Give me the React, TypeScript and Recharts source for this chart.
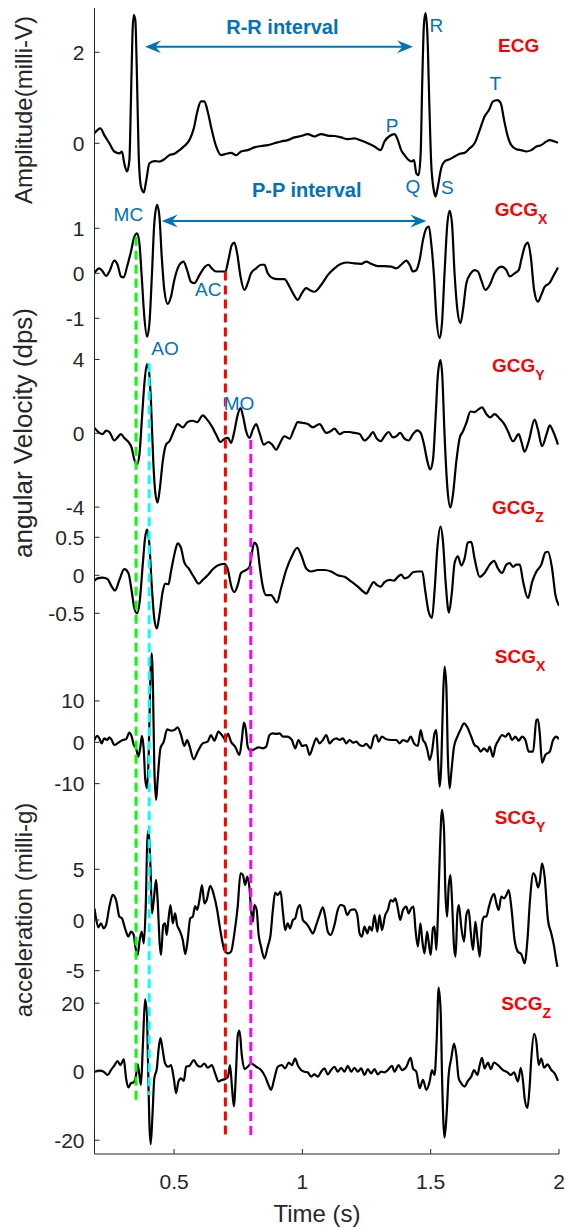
import React from 'react';
import { ComposedChart, Line, XAxis, YAxis, ReferenceLine, ReferenceDot } from 'recharts';

// ---------------- data (time in s, value in panel units) ----------------
const ecg: [number, number][] = [
  [0.19, 0.22], [0.213, 0.33], [0.228, 0.18], [0.248, 0], [0.267, -0.18], [0.287, -0.22], [0.297, -0.18],
  [0.306, -0.44], [0.317, -0.62], [0.326, -0.37], [0.332, 0.95], [0.338, 2.42], [0.343, 2.82], [0.349, 2.71],
  [0.356, 1.32], [0.362, -0.22], [0.371, -0.95], [0.382, -1.08], [0.391, -0.84], [0.404, -0.44], [0.423, -0.39],
  [0.443, -0.4], [0.462, -0.35], [0.482, -0.26], [0.501, -0.23], [0.521, -0.15], [0.54, -0.06], [0.56, 0.07],
  [0.577, 0.33], [0.592, 0.73], [0.605, 0.92], [0.618, 0.92], [0.631, 0.7], [0.647, 0.29], [0.664, -0.07],
  [0.683, -0.26], [0.703, -0.23], [0.722, -0.21], [0.742, -0.26], [0.761, -0.18], [0.787, -0.15], [0.813, -0.09],
  [0.839, -0.06], [0.865, -0.04], [0.891, 0], [0.917, 0.04], [0.943, 0.07], [0.969, 0.13], [0.995, 0.16],
  [1.021, 0.2], [1.047, 0.15], [1.073, 0.2], [1.099, 0.17], [1.125, 0.16], [1.151, 0.13], [1.177, 0.09],
  [1.203, 0.11], [1.229, 0.06], [1.255, 0], [1.281, -0.07], [1.305, -0.15], [1.32, 0.04], [1.34, 0.16],
  [1.359, 0.2], [1.372, 0.07], [1.385, -0.15], [1.398, -0.26], [1.411, -0.35], [1.424, -0.4], [1.435, -0.37],
  [1.444, -0.66], [1.453, -0.7], [1.461, -0.22], [1.467, 1.32], [1.474, 2.64], [1.48, 2.86], [1.487, 2.42],
  [1.495, 0.81], [1.502, -0.44], [1.512, -1.03], [1.519, -1.17], [1.528, -0.95], [1.541, -0.55], [1.554, -0.4],
  [1.574, -0.35], [1.593, -0.29], [1.613, -0.23], [1.632, -0.21], [1.652, -0.11], [1.671, 0], [1.691, 0.29],
  [1.71, 0.59], [1.727, 0.73], [1.743, 0.92], [1.76, 0.95], [1.773, 0.88], [1.786, 0.51], [1.799, 0.18],
  [1.814, -0.04], [1.834, -0.13], [1.853, -0.15], [1.873, -0.18], [1.892, -0.15], [1.912, -0.07], [1.931, -0.04],
  [1.951, 0.04], [1.964, 0.07], [1.983, 0.04], [1.996, 0.01],
];

const gcgx: [number, number][] = [
  [0.19, 0.01], [0.209, 0.11], [0.222, 0.04], [0.235, -0.06], [0.248, 0.04], [0.267, 0.28], [0.28, 0.19],
  [0.293, -0.07], [0.304, -0.09], [0.317, 0.15], [0.332, 0.48], [0.345, 0.81], [0.356, 0.89], [0.365, 0.67],
  [0.374, -0.07], [0.384, -0.96], [0.395, -1.41], [0.404, -1.11], [0.414, 0], [0.423, 1.11], [0.434, 1.52],
  [0.443, 1.26], [0.452, 0.37], [0.462, -0.37], [0.475, -0.68], [0.488, -0.52], [0.501, -0.15], [0.521, 0.19],
  [0.537, 0.26], [0.551, 0.07], [0.566, -0.19], [0.579, -0.22], [0.599, -0.04], [0.618, 0.13], [0.634, 0.19],
  [0.647, 0.11], [0.664, 0.04], [0.683, 0.04], [0.7, 0.04], [0.712, 0.3], [0.725, 0.63], [0.735, 0.68],
  [0.746, 0.44], [0.759, -0.07], [0.774, -0.37], [0.787, -0.22], [0.8, 0], [0.82, 0.11], [0.839, 0.19],
  [0.852, 0.19], [0.865, 0], [0.885, -0.11], [0.904, -0.13], [0.93, -0.13], [0.95, -0.3], [0.967, -0.48],
  [0.982, -0.59], [0.998, -0.44], [1.015, -0.33], [1.028, -0.37], [1.047, -0.41], [1.073, -0.26], [1.099, -0.04],
  [1.125, 0.11], [1.151, 0.21], [1.177, 0.24], [1.203, 0.22], [1.229, 0.21], [1.249, 0.26], [1.268, 0.21],
  [1.294, 0.16], [1.32, 0.16], [1.346, 0.15], [1.366, 0.11], [1.385, 0.19], [1.405, 0.28], [1.418, 0.19],
  [1.431, 0.04], [1.444, 0.07], [1.457, 0.3], [1.47, 0.74], [1.483, 1.0], [1.493, 1.04], [1.502, 0.67],
  [1.513, -0.07], [1.522, -0.96], [1.535, -1.44], [1.544, -1.11], [1.554, 0], [1.565, 1.11], [1.574, 1.39],
  [1.583, 1.11], [1.593, 0], [1.604, -0.81], [1.616, -1.11], [1.626, -0.81], [1.639, -0.22], [1.656, 0],
  [1.671, 0.07], [1.684, 0.04], [1.697, -0.15], [1.713, -0.37], [1.73, -0.26], [1.749, 0], [1.775, 0.15],
  [1.795, 0.07], [1.808, -0.07], [1.827, 0], [1.843, 0.07], [1.853, 0.3], [1.869, 0.63], [1.879, 0.68],
  [1.89, 0.37], [1.903, -0.37], [1.918, -0.63], [1.931, -0.48], [1.944, -0.3], [1.964, -0.21], [1.977, -0.07],
  [1.996, 0.13],
];

const gcgy: [number, number][] = [
  [0.19, 0.29], [0.209, 0.02], [0.222, -0.04], [0.235, 0.14], [0.248, 0.07], [0.267, -0.39], [0.28, -0.22],
  [0.293, -0.04], [0.306, -0.25], [0.322, -0.47], [0.335, -0.79], [0.345, -1.42], [0.355, -1.69], [0.365, -1.15],
  [0.375, 0.83], [0.384, 2.62], [0.394, 3.73], [0.401, 3.52], [0.41, 1.72], [0.419, -1.51], [0.427, -3.21],
  [0.436, -3.75], [0.445, -2.94], [0.456, -1.51], [0.469, -0.61], [0.482, -0.43], [0.499, 0.11], [0.514, 0.5],
  [0.534, 0.32], [0.553, 0.61], [0.573, 0.68], [0.59, 0.61], [0.612, 0.97], [0.629, 0.74], [0.647, 0.38],
  [0.664, -0.07], [0.681, -0.47], [0.697, -0.29], [0.71, -0.25], [0.722, -0.52], [0.735, 0.11], [0.748, 1.0],
  [0.759, 1.36], [0.769, 0.91], [0.781, 0.11], [0.794, -0.25], [0.807, 0.2], [0.82, 0.5], [0.833, 0.02],
  [0.85, -0.61], [0.868, -0.47], [0.882, -0.61], [0.898, -0.88], [0.915, -0.47], [0.93, -0.16], [0.95, -0.29],
  [0.967, 0.2], [0.982, 0.61], [1.002, 0.56], [1.021, 0.5], [1.041, 0.32], [1.067, 0.5], [1.093, 0.02],
  [1.11, 0.11], [1.125, 0.25], [1.145, -0.04], [1.164, 0.07], [1.184, 0.07], [1.203, 0.02], [1.223, -0.04],
  [1.242, -0.39], [1.262, -0.16], [1.275, 0.07], [1.288, -0.25], [1.305, -0.43], [1.32, -0.16], [1.336, 0.07],
  [1.353, -0.22], [1.366, -0.16], [1.381, 0.02], [1.398, -0.29], [1.414, -0.39], [1.431, -0.04], [1.448, 0.16],
  [1.461, 0.02], [1.474, -0.61], [1.487, -1.51], [1.498, -1.96], [1.509, -1.42], [1.519, 0.83], [1.528, 3.16],
  [1.538, 3.96], [1.545, 3.16], [1.554, -0.07], [1.565, -2.94], [1.577, -4.02], [1.587, -3.3], [1.6, -1.51],
  [1.613, -0.25], [1.626, 0.11], [1.639, 0.56], [1.655, 1.18], [1.671, 1.15], [1.684, 1.27], [1.7, 1.4],
  [1.717, 1.04], [1.732, 0.86], [1.749, 1.04], [1.769, 0.79], [1.788, 0.47], [1.801, 0.11], [1.821, -0.43],
  [1.843, -0.04], [1.853, -0.43], [1.866, -1.0], [1.882, -0.43], [1.905, 0.74], [1.918, 0.2], [1.934, -0.7],
  [1.951, -0.07], [1.964, 0.43], [1.977, 0.11], [1.996, -0.61],
];

const gcgz: [number, number][] = [
  [0.19, -0.07], [0.202, -0.04], [0.222, -0.03], [0.241, -0.05], [0.254, -0.13], [0.27, -0.2], [0.287, -0.06],
  [0.306, 0.08], [0.322, 0.03], [0.335, -0.21], [0.345, -0.43], [0.356, -0.5], [0.366, -0.35], [0.378, 0.14],
  [0.387, 0.49], [0.395, 0.6], [0.403, 0.44], [0.413, -0.13], [0.423, -0.57], [0.433, -0.7], [0.443, -0.52],
  [0.456, -0.21], [0.466, -0.11], [0.478, -0.12], [0.488, 0.05], [0.501, 0.27], [0.514, 0.42], [0.527, 0.36],
  [0.54, 0.17], [0.557, 0.09], [0.577, -0.02], [0.596, -0.11], [0.612, -0.06], [0.631, 0.0], [0.651, 0.08],
  [0.67, 0.13], [0.696, 0.15], [0.71, 0.07], [0.722, -0.13], [0.735, -0.22], [0.748, -0.13], [0.761, 0.03],
  [0.781, 0.07], [0.794, 0.11], [0.803, 0.29], [0.813, 0.43], [0.824, 0.38], [0.833, 0.14], [0.846, -0.15],
  [0.859, -0.26], [0.878, -0.26], [0.901, -0.36], [0.917, -0.17], [0.937, 0.07], [0.959, 0.25], [0.98, 0.36],
  [0.995, 0.27], [1.015, 0.09], [1.034, 0.05], [1.06, 0.07], [1.086, 0.07], [1.112, 0.05], [1.138, 0.0],
  [1.164, -0.02], [1.19, -0.08], [1.216, -0.15], [1.236, -0.21], [1.249, -0.24], [1.262, -0.17], [1.278, -0.09],
  [1.291, -0.13], [1.305, -0.15], [1.32, -0.09], [1.34, -0.06], [1.357, -0.07], [1.372, -0.02], [1.385, 0.01],
  [1.398, -0.04], [1.414, -0.02], [1.431, 0.04], [1.45, 0.05], [1.467, 0.05], [1.479, -0.21], [1.492, -0.48],
  [1.505, -0.56], [1.515, -0.21], [1.526, 0.36], [1.538, 0.64], [1.548, 0.44], [1.558, -0.08], [1.571, -0.49],
  [1.583, -0.21], [1.593, 0.16], [1.606, 0.25], [1.619, 0.13], [1.632, 0.22], [1.645, 0.43], [1.658, 0.44],
  [1.671, 0.22], [1.691, -0.02], [1.71, 0.03], [1.73, 0.14], [1.747, 0.19], [1.762, 0.09], [1.778, 0.03],
  [1.795, 0.14], [1.808, 0.16], [1.821, 0.11], [1.834, 0.14], [1.847, 0.14], [1.86, -0.08], [1.879, -0.3],
  [1.896, -0.08], [1.912, 0.05], [1.931, 0.14], [1.947, 0.3], [1.957, 0.31], [1.973, 0.09], [1.986, -0.26],
  [2.0, -0.4],
];

const scgx: [number, number][] = [
  [0.19, 0.56], [0.2, 1.53], [0.209, 0.97], [0.218, -0.24], [0.228, 0.97], [0.239, 0.56], [0.248, 1.21],
  [0.257, 0.56], [0.267, -0.65], [0.283, -0.08], [0.3, 0.56], [0.313, 0.73], [0.326, 2.34], [0.335, 1.37],
  [0.343, -0.65], [0.352, -1.45], [0.361, -3.47], [0.369, -1.05], [0.375, 1.53], [0.382, -1.85], [0.388, -9.11],
  [0.395, -11.13], [0.401, -3.47], [0.408, 16.69], [0.413, 21.53], [0.418, 12.66], [0.423, -5.89], [0.43, -13.95],
  [0.436, -9.11], [0.447, -1.45], [0.46, 0.16], [0.473, 3.15], [0.488, 2.82], [0.501, 2.98], [0.514, 3.63],
  [0.527, 1.77], [0.54, -0.89], [0.551, 0.56], [0.56, -0.89], [0.577, -4.11], [0.592, -2.26], [0.612, -0.24],
  [0.631, 0.16], [0.644, 1.77], [0.657, 0.4], [0.673, 2.58], [0.686, 1.77], [0.699, 0.73], [0.71, 2.02],
  [0.722, 0.16], [0.738, -1.05], [0.755, -3.06], [0.764, 0.56], [0.772, 4.76], [0.78, 2.98], [0.787, -1.05],
  [0.798, -2.02], [0.813, -1.69], [0.829, -1.21], [0.846, -1.45], [0.859, -1.05], [0.872, 1.77], [0.885, 2.18],
  [0.898, 2.02], [0.911, 2.18], [0.924, 1.37], [0.941, 1.37], [0.959, 0.56], [0.972, -1.45], [0.985, 0.56],
  [0.999, -0.89], [1.015, -0.65], [1.028, -3.06], [1.041, -1.05], [1.054, 0.97], [1.067, -0.24], [1.08, 0.56],
  [1.093, 1.77], [1.106, -0.24], [1.119, 0.56], [1.132, 0.97], [1.145, 0.56], [1.158, 0.97], [1.171, -0.24],
  [1.184, 0.56], [1.197, -0.08], [1.21, 0.16], [1.223, -0.65], [1.236, -0.89], [1.249, -0.4], [1.266, -1.45],
  [1.279, 1.37], [1.288, 1.77], [1.297, 0.16], [1.31, 1.37], [1.327, 0.73], [1.346, 0.56], [1.366, 0.56],
  [1.379, -0.24], [1.392, 0.56], [1.409, 0.16], [1.422, 1.37], [1.435, -0.24], [1.45, -0.89], [1.461, 2.98],
  [1.47, 0.56], [1.479, -0.24], [1.487, -1.85], [1.496, -4.27], [1.505, -2.26], [1.515, 2.18], [1.522, 2.98],
  [1.528, -3.47], [1.535, -10.73], [1.541, -5.89], [1.548, 10.24], [1.554, 18.31], [1.561, 13.47], [1.567, -3.47],
  [1.574, -11.13], [1.58, -7.5], [1.591, -1.05], [1.604, 1.37], [1.617, 3.15], [1.63, 4.6], [1.643, 3.63],
  [1.658, 1.37], [1.671, -0.65], [1.684, -1.21], [1.695, -2.26], [1.708, -1.45], [1.721, -2.26], [1.73, -1.05],
  [1.743, -3.47], [1.752, -1.05], [1.765, 0.56], [1.778, 1.77], [1.791, 1.37], [1.804, 2.18], [1.817, 0.56],
  [1.83, 1.37], [1.843, 0.4], [1.856, 1.37], [1.869, 0.56], [1.882, -2.26], [1.899, -2.26], [1.912, 5.4],
  [1.918, 5.56], [1.925, 2.18], [1.934, -4.92], [1.947, -3.06], [1.964, -2.26], [1.977, 0.56], [1.99, 1.37],
  [1.999, 0.73],
];

const scgy: [number, number][] = [
  [0.19, 1.15], [0.196, 0.16], [0.205, -0.72], [0.215, -0.33], [0.226, -0.82], [0.235, -0.49], [0.248, 1.32],
  [0.261, 2.47], [0.274, 1.97], [0.287, 0.33], [0.297, 0.16], [0.309, -0.82], [0.322, -1.64], [0.332, -1.15],
  [0.343, -1.48], [0.349, -2.63], [0.358, -3.45], [0.366, -1.97], [0.374, -1.15], [0.382, -2.3], [0.39, 1.64],
  [0.396, 7.89], [0.401, 8.88], [0.408, 5.26], [0.414, 0.66], [0.421, 1.97], [0.43, 3.95], [0.436, 1.97],
  [0.444, -2.3], [0.449, -3.45], [0.458, -0.49], [0.465, -0.33], [0.471, -1.48], [0.478, 0], [0.486, 1.48],
  [0.495, -0.33], [0.504, 0.66], [0.512, -0.49], [0.521, -0.99], [0.534, -1.97], [0.544, -3.36], [0.553, -1.97],
  [0.563, 0.16], [0.573, 0.33], [0.582, 1.38], [0.59, 0.99], [0.599, 1.97], [0.609, 3.45], [0.618, 1.64],
  [0.627, 1.97], [0.641, 3.36], [0.655, 2.47], [0.668, 0.99], [0.677, -0.49], [0.687, -1.97], [0.696, -2.96],
  [0.71, -3.29], [0.722, -3.13], [0.735, -1.32], [0.748, 1.32], [0.759, 4.61], [0.768, 4.44], [0.777, 3.45],
  [0.785, 4.28], [0.794, 3.13], [0.8, 0.99], [0.807, -0.16], [0.813, 1.48], [0.822, 0.99], [0.829, -1.32],
  [0.839, -2.63], [0.852, -3.78], [0.865, -2.63], [0.876, -1.48], [0.885, 0.99], [0.894, 2.7], [0.904, 2.47],
  [0.915, 2.8], [0.924, 0.82], [0.933, -0.99], [0.943, -0.33], [0.952, -0.82], [0.963, 0], [0.972, 0.16],
  [0.982, 1.15], [0.991, 1.48], [1.002, 0], [1.015, -0.33], [1.028, -0.82], [1.041, -1.32], [1.054, -0.49],
  [1.067, 0.49], [1.08, 1.25], [1.089, 0.33], [1.099, -1.15], [1.11, -1.48], [1.125, -0.49], [1.138, 0.99],
  [1.149, 1.48], [1.162, 1.38], [1.175, 0.49], [1.188, 0.99], [1.203, 1.05], [1.214, 0.49], [1.223, -1.32],
  [1.232, -1.64], [1.242, -0.66], [1.253, -1.32], [1.262, -0.66], [1.271, -1.05], [1.281, 0.49], [1.292, -1.15],
  [1.301, 0.49], [1.31, -0.99], [1.323, 0.49], [1.333, 0.99], [1.344, 1.97], [1.353, 1.81], [1.362, 2.14],
  [1.372, 1.15], [1.381, 0], [1.392, 0.99], [1.405, 1.32], [1.414, 0.66], [1.424, 1.15], [1.433, 1.32],
  [1.441, -0.99], [1.45, -2.63], [1.46, -0.33], [1.467, -1.97], [1.476, -3.29], [1.486, -1.15], [1.492, -2.14],
  [1.5, -3.45], [1.509, -0.82], [1.515, -0.66], [1.522, -2.96], [1.528, 0.33], [1.536, 6.91], [1.544, 10.86],
  [1.552, 8.88], [1.557, 2.96], [1.564, 0.33], [1.57, 3.29], [1.577, 4.44], [1.583, 1.97], [1.591, -2.63],
  [1.597, -3.62], [1.604, 0.66], [1.61, 1.48], [1.619, -0.66], [1.63, -2.14], [1.639, 0.49], [1.648, 0.99],
  [1.656, -1.15], [1.665, -2.96], [1.674, -0.16], [1.682, -1.81], [1.691, -3.62], [1.7, -0.33], [1.708, 0.33],
  [1.717, 0.33], [1.727, 1.32], [1.739, 2.3], [1.747, 2.57], [1.756, 1.64], [1.765, 0.99], [1.775, 2.3],
  [1.786, 2.14], [1.795, 2.47], [1.804, 2.96], [1.814, 1.32], [1.827, -1.97], [1.84, -3.13], [1.853, -3.36],
  [1.866, -4.28], [1.877, -1.97], [1.887, 1.97], [1.9, 4.61], [1.908, 4.28], [1.918, 3.22], [1.925, 3.78],
  [1.934, 5.59], [1.944, 4.28], [1.957, 0], [1.97, -1.32], [1.981, -2.63], [1.989, -3.95], [1.994, -4.61],
];

const scgz: [number, number][] = [
  [0.19, 0], [0.209, 0.29], [0.226, 0], [0.241, -0.96], [0.254, 0.48], [0.267, 1.73], [0.28, 3.08],
  [0.291, 1.92], [0.304, 3.65], [0.313, -1.92], [0.322, -4.62], [0.332, -3.37], [0.343, -3.08], [0.352, -0.96],
  [0.358, 2.12], [0.365, -0.96], [0.371, -3.85], [0.379, 8.65], [0.387, 21.15], [0.394, 17.31], [0.399, 0.96],
  [0.404, -15.38], [0.409, -21.15], [0.416, -12.5], [0.423, -1.92], [0.433, 0.96], [0.44, 6.73], [0.447, 9.81],
  [0.455, 6.73], [0.465, 2.4], [0.478, 1.44], [0.488, 1.92], [0.499, -1.92], [0.508, -6.25], [0.517, -2.88],
  [0.527, -1.92], [0.538, -2.69], [0.547, 1.44], [0.56, 1.73], [0.577, 3.37], [0.59, 1.92], [0.603, 1.44],
  [0.618, 2.4], [0.631, 1.15], [0.647, 1.92], [0.66, -0.48], [0.673, -2.88], [0.686, -2.4], [0.699, -2.12],
  [0.71, -1.44], [0.718, 1.92], [0.725, -3.85], [0.733, -10.1], [0.742, 0.96], [0.748, 10.58], [0.755, 12.02],
  [0.764, 4.81], [0.774, 0.77], [0.787, 1.44], [0.8, 2.4], [0.82, 1.44], [0.839, 0.48], [0.855, -1.44],
  [0.868, -3.85], [0.878, -5.29], [0.891, -1.92], [0.904, 1.44], [0.92, 1.92], [0.933, 0.96], [0.947, 2.69],
  [0.959, 1.92], [0.972, 3.85], [0.982, 1.92], [0.995, 0.48], [1.008, 0], [1.021, -0.19], [1.034, -1.44],
  [1.047, -0.77], [1.06, -1.44], [1.073, 0], [1.086, 0.96], [1.099, -0.77], [1.112, 0.48], [1.125, 1.44],
  [1.138, 0], [1.151, 1.15], [1.164, 0], [1.177, 1.73], [1.19, 0], [1.203, 1.15], [1.216, 0], [1.229, 0.96],
  [1.242, -0.96], [1.255, 0.77], [1.268, -0.48], [1.281, 0.77], [1.294, -0.77], [1.307, 0], [1.32, -0.19],
  [1.333, 0.48], [1.349, 1.73], [1.359, 0], [1.375, 1.92], [1.388, 0.48], [1.405, 1.44], [1.422, 4.04],
  [1.431, 0.96], [1.444, 0], [1.457, -4.81], [1.47, -2.4], [1.483, -5.29], [1.496, -2.88], [1.505, 0.48],
  [1.515, -0.96], [1.523, 8.65], [1.531, 24.52], [1.539, 17.31], [1.545, -3.85], [1.554, -19.23], [1.562, -12.5],
  [1.57, -0.96], [1.58, 3.85], [1.591, 8.17], [1.6, 4.81], [1.609, -1.92], [1.619, -3.37], [1.632, -4.33],
  [1.645, -2.69], [1.658, -1.44], [1.669, 0.48], [1.682, -0.96], [1.691, 1.92], [1.7, 4.04], [1.71, 0.96],
  [1.723, 2.69], [1.734, 0.77], [1.747, 2.69], [1.762, 1.92], [1.782, 0.48], [1.799, -0.19], [1.812, -0.96],
  [1.825, -0.19], [1.84, -2.88], [1.851, 1.15], [1.86, -2.88], [1.866, -7.69], [1.877, -10.58], [1.886, -3.85],
  [1.892, 3.85], [1.903, 11.06], [1.912, 8.65], [1.921, 1.92], [1.931, 3.85], [1.942, 1.15], [1.955, 2.12],
  [1.97, 0.48], [1.983, -0.48], [1.996, -2.69],
];

// tick labels
const timeTicks = [0.5, 1, 1.5, 2];
const ecgTicks = [0, 2];
const gcgxTicks = [-1, 0, 1];
const gcgyTicks = [-4, 0, 4];
const gcgzTicks = [-0.5, 0, 0.5];
const scgxTicks = [-10, 0, 10];
const scgyTicks = [-5, 0, 5];
const scgzTicks = [-20, 0, 20];

// ---------------- layout / style ----------------
const W = 566;
const H = 1228;
const PLOT = { left: 94.5, right: 559, top: 8, bottom: 1154 };
const FONT = '"Liberation Sans", Arial, Helvetica, sans-serif';
const AXIS = '#262626';
const BLUE = '#0072BD';

type Panel = { id: string; data: [number, number][]; ticks: number[]; zeroY: number; pxPerUnit: number };
const PANELS: Panel[] = [
  { id: 'ecg', data: ecg, ticks: ecgTicks, zeroY: 143.3, pxPerUnit: 45.5 },
  { id: 'gcgx', data: gcgx, ticks: gcgxTicks, zeroY: 273.3, pxPerUnit: 45 },
  { id: 'gcgy', data: gcgy, ticks: gcgyTicks, zeroY: 433.3, pxPerUnit: 18.46 },
  { id: 'gcgz', data: gcgz, ticks: gcgzTicks, zeroY: 575.3, pxPerUnit: 76 },
  { id: 'scgx', data: scgx, ticks: scgxTicks, zeroY: 742.3, pxPerUnit: 4.135 },
  { id: 'scgy', data: scgy, ticks: scgyTicks, zeroY: 920, pxPerUnit: 10.14 },
  { id: 'scgz', data: scgz, ticks: scgzTicks, zeroY: 1071.7, pxPerUnit: 3.425 },
];
const AXIS_W = 1; // each stacked y axis takes 1px of the left offset
const panelOf = (id: string) => PANELS.find((p) => p.id === id)!;
const domainOf = (p: Panel): [number, number] => [
  -(PLOT.bottom - p.zeroY) / p.pxPerUnit,
  (p.zeroY - PLOT.top) / p.pxPerUnit,
];
// express a value of one panel in the units of another panel's axis
const convert = (from: string, v: number, to: string) => {
  const f = panelOf(from);
  const t = panelOf(to);
  const py = f.zeroY - v * f.pxPerUnit;
  return (t.zeroY - py) / t.pxPerUnit;
};

// vertical dashed event markers: time, start (panel,value), end (panel,value)
const markers = [
  { t: 0.352, color: '#00FF00', top: ['gcgx', 0.81], bottom: ['scgz', -8.3] },
  { t: 0.403, color: '#00FFFF', top: ['gcgy', 3.79], bottom: ['scgz', -6.8] },
  { t: 0.7, color: '#FF0000', top: ['gcgx', 0.04], bottom: ['scgz', -19.4] },
  { t: 0.799, color: '#FF00FF', top: ['gcgy', -0.36], bottom: ['scgz', -19.4] },
] as { t: number; color: string; top: [string, number]; bottom: [string, number] }[];

const blueLabels = [
  { text: 'R', t: 1.522, panel: 'ecg', v: 2.58 },
  { text: 'P', t: 1.35, panel: 'ecg', v: 0.4 },
  { text: 'Q', t: 1.431, panel: 'ecg', v: -0.95 },
  { text: 'S', t: 1.565, panel: 'ecg', v: -0.98 },
  { text: 'T', t: 1.752, panel: 'ecg', v: 1.32 },
  { text: 'MC', t: 0.322, panel: 'gcgx', v: 1.3 },
  { text: 'AC', t: 0.633, panel: 'gcgx', v: -0.37 },
  { text: 'AO', t: 0.465, panel: 'gcgy', v: 4.6 },
  { text: 'MO', t: 0.753, panel: 'gcgy', v: 1.63 },
];

const intervals = [
  { text: 'R-R interval', panel: 'ecg', from: 0.387, to: 1.431, v: 2.12, textT: 0.922, textV: 2.55 },
  { text: 'P-P interval', panel: 'gcgx', from: 0.452, to: 1.483, v: 1.16, textT: 1.017, textV: 1.85 },
];

const panelNames = [
  { main: 'ECG', sub: '', t: 1.7625, panel: 'ecg', v: 2.16 },
  { main: 'GCG', sub: 'X', t: 1.75, panel: 'gcgx', v: 1.44 },
  { main: 'GCG', sub: 'Y', t: 1.739, panel: 'gcgy', v: 3.7 },
  { main: 'GCG', sub: 'Z', t: 1.739, panel: 'gcgz', v: 0.9 },
  { main: 'SCG', sub: 'X', t: 1.75, panel: 'scgx', v: 20.9 },
  { main: 'SCG', sub: 'Y', t: 1.75, panel: 'scgy', v: 10.19 },
  { main: 'SCG', sub: 'Z', t: 1.7754, panel: 'scgz', v: 19.97 },
];

// ---------------- renderers ----------------
const YTick = (props: any) => {
  const { y, payload } = props;
  return (
    <g>
      <line x1={PLOT.left} x2={PLOT.left + 5} y1={y} y2={y} stroke={AXIS} strokeWidth={1} />
      <text x={PLOT.left - 10} y={y} textAnchor="end" dominantBaseline="central" fontSize={21} fill={AXIS} fontFamily={FONT}>
        {payload.value}
      </text>
    </g>
  );
};

const XTick = (props: any) => {
  const { x, payload } = props;
  return (
    <g>
      <line x1={x} x2={x} y1={PLOT.bottom} y2={PLOT.bottom - 5} stroke={AXIS} strokeWidth={1} />
      <text x={x} y={PLOT.bottom + 27} textAnchor="middle" dominantBaseline="central" fontSize={21} fill={AXIS} fontFamily={FONT}>
        {payload.value}
      </text>
    </g>
  );
};

const DoubleArrow = (props: any) => {
  const { x1, y1, x2 } = props;
  const L = 16;
  const h = 6.5;
  const left = Math.min(x1, x2);
  const right = Math.max(x1, x2);
  const y = y1;
  return (
    <g>
      <line x1={left + 8} x2={right - 8} y1={y} y2={y} stroke={BLUE} strokeWidth={2} />
      <polygon points={`${left},${y} ${left + L},${y - h} ${left + L * 0.65},${y} ${left + L},${y + h}`} fill={BLUE} />
      <polygon points={`${right},${y} ${right - L},${y - h} ${right - L * 0.65},${y} ${right - L},${y + h}`} fill={BLUE} />
    </g>
  );
};

const textShape = (content: React.ReactNode, opts: { size: number; color: string; bold?: boolean; anchor?: string }) =>
  (p: any) => (
    <text
      x={p.cx}
      y={p.cy}
      textAnchor={opts.anchor || 'middle'}
      dominantBaseline="central"
      fontSize={opts.size}
      fill={opts.color}
      fontWeight={opts.bold ? 'bold' : 'normal'}
      fontFamily={FONT}
    >
      {content}
    </text>
  );

export default function App() {
  return (
    <div style={{ position: 'absolute', left: 0, top: 0, width: W, height: H, background: '#fff' }}>
      <ComposedChart
        width={W}
        height={H}
        margin={{
          top: PLOT.top,
          right: W - PLOT.right,
          bottom: H - PLOT.bottom - 40,
          left: PLOT.left - AXIS_W * PANELS.length,
        }}
      >
        <XAxis
          dataKey="t"
          type="number"
          domain={[0.19, 2]}
          allowDataOverflow
          ticks={timeTicks}
          interval={0}
          height={40}
          tickLine={false}
          tickSize={0}
          tickMargin={0}
          tick={<XTick />}
          stroke={AXIS}
        />
        {PANELS.map((p, i) => (
          <YAxis
            key={p.id}
            yAxisId={p.id}
            type="number"
            width={AXIS_W}
            domain={domainOf(p)}
            allowDataOverflow
            ticks={p.ticks}
            interval={0}
            tickLine={false}
            tickSize={0}
            tickMargin={10}
            axisLine={i === 0 ? { stroke: AXIS } : false}
            tick={<YTick />}
          />
        ))}
        {PANELS.map((p) => (
          <Line
            key={p.id}
            yAxisId={p.id}
            data={p.data.map(([t, v]) => ({ t, v }))}
            dataKey="v"
            type="monotone"
            stroke="#000"
            strokeWidth={2.2}
            dot={false}
            isAnimationActive={false}
          />
        ))}
        {markers.map((m) => (
          <ReferenceLine
            key={m.color}
            yAxisId="scgz"
            ifOverflow="visible"
            segment={[
              { x: m.t, y: convert(m.top[0], m.top[1], 'scgz') },
              { x: m.t, y: convert(m.bottom[0], m.bottom[1], 'scgz') },
            ]}
            stroke={m.color}
            strokeWidth={3}
            strokeDasharray="9 5"
          />
        ))}
        {intervals.map((a) => (
          <ReferenceLine
            key={a.text + '-arrow'}
            yAxisId={a.panel}
            ifOverflow="visible"
            segment={[{ x: a.from, y: a.v }, { x: a.to, y: a.v }]}
            shape={(p: any) => <DoubleArrow {...p} />}
          />
        ))}
        {intervals.map((a) => (
          <ReferenceDot
            key={a.text}
            yAxisId={a.panel}
            x={a.textT}
            y={a.textV}
            r={0}
            ifOverflow="visible"
            shape={textShape(a.text, { size: 20, color: BLUE, bold: true })}
          />
        ))}
        {blueLabels.map((l) => (
          <ReferenceDot
            key={l.text}
            yAxisId={l.panel}
            x={l.t}
            y={l.v}
            r={0}
            ifOverflow="visible"
            shape={textShape(l.text, { size: 19, color: BLUE })}
          />
        ))}
        {panelNames.map((n) => (
          <ReferenceDot
            key={n.main + n.sub}
            yAxisId={n.panel}
            x={n.t}
            y={n.v}
            r={0}
            ifOverflow="visible"
            shape={textShape(
              <>
                <tspan>{n.main}</tspan>
                {n.sub ? (
                  <tspan dy={10} fontSize={14}>
                    {n.sub}
                  </tspan>
                ) : null}
              </>,
              { size: 19, color: '#FF0000', bold: true, anchor: 'start' }
            )}
          />
        ))}
      </ComposedChart>
      <svg width={W} height={H} style={{ position: 'absolute', left: 0, top: 0, pointerEvents: 'none' }}>
        <g fontFamily={FONT} fill={AXIS} fontSize={24}>
          <text transform="translate(23,110) rotate(-90)" textAnchor="middle" dominantBaseline="central">
            Amplitude(milli-V)
          </text>
          <text transform="translate(23,433) rotate(-90)" textAnchor="middle" dominantBaseline="central" fontSize={26}>
            angular Velocity (dps)
          </text>
          <text transform="translate(23,910) rotate(-90)" textAnchor="middle" dominantBaseline="central">
            acceleration (milli-g)
          </text>
          <text x={317} y={1213} textAnchor="middle" dominantBaseline="central">
            Time (s)
          </text>
        </g>
      </svg>
    </div>
  );
}
